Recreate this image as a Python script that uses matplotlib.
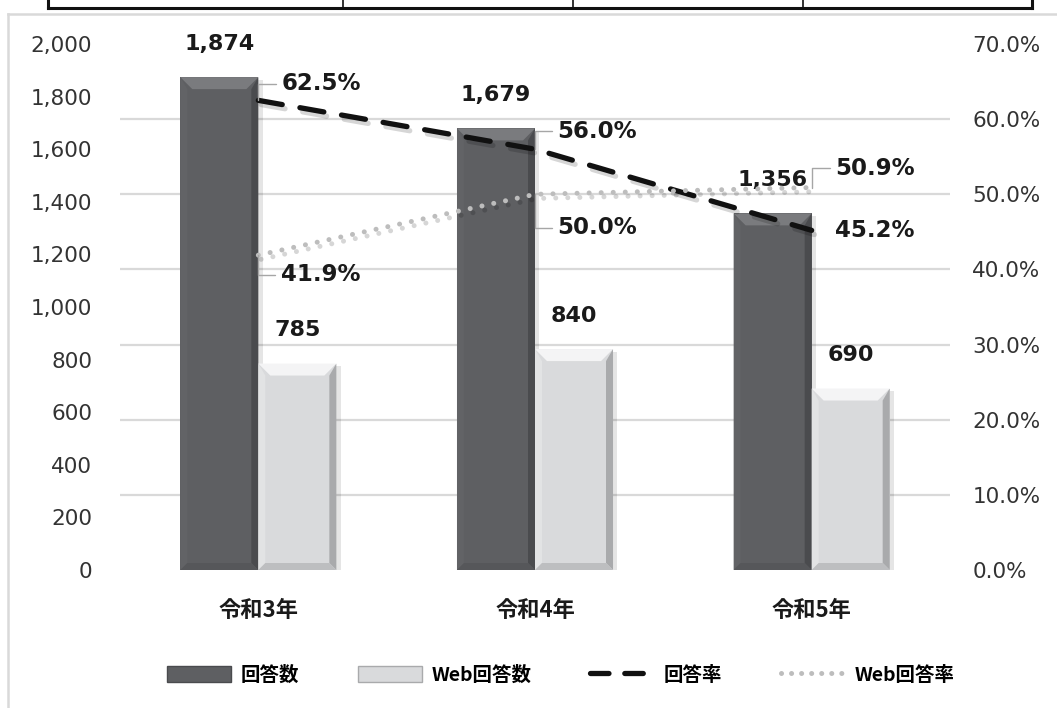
import numpy as np
import matplotlib
matplotlib.use("Agg")
import matplotlib.pyplot as plt
from matplotlib.patches import Polygon, Patch
from matplotlib.lines import Line2D
from matplotlib.ticker import FixedLocator
import matplotlib.patheffects as pe

# ---------------- data ----------------
categories = ["令和3年", "令和4年", "令和5年"]
responses = [1874, 1679, 1356]          # 回答数
web_responses = [785, 840, 690]         # Web回答数
response_rate = [0.625, 0.560, 0.452]   # 回答率
web_rate = [0.419, 0.500, 0.509]        # Web回答率
left_ticks = [0, 200, 400, 600, 800, 1000, 1200, 1400, 1600, 1800, 2000]
right_ticks = [0.0, 0.1, 0.2, 0.3, 0.4, 0.5, 0.6, 0.7]
legend_labels = ["回答数", "Web回答数", "回答率", "Web回答率"]

CJK = ["Noto Sans CJK JP", "DejaVu Sans"]
W, H = 1057, 708
fig = plt.figure(figsize=(W / 100, H / 100), dpi=100)
fig.patch.set_facecolor("white")

ax = fig.add_axes([120 / W, 1 - 570 / H, 830 / W, 526 / H])
ax2 = ax.twinx()

x = np.arange(len(categories))
bw = 0.282
ax.set_xlim(-0.5, len(categories) - 0.5)
ax.set_ylim(0, 2000)
ax2.set_ylim(0, 0.7)

for a in (ax, ax2):
    for s in a.spines.values():
        s.set_visible(False)
ax.patch.set_visible(False)

# gridlines aligned with the right axis ticks
ax.yaxis.set_minor_locator(FixedLocator([t / 0.7 * 2000 for t in right_ticks]))
ax.grid(which="minor", axis="y", color="#d9d9d9", lw=1.6)
ax.grid(which="major", visible=False)
ax.tick_params(axis="y", which="minor", length=0)
ax.set_axisbelow(True)

# left ticks
ax.set_yticks(left_ticks)
ax.set_yticklabels([f"{v:,}" for v in left_ticks])
ax.tick_params(axis="y", which="major", length=0, pad=20, labelsize=15.5, labelcolor="#333333")
# right ticks
ax2.set_yticks(right_ticks)
ax2.set_yticklabels([f"{v*100:.1f}%" for v in right_ticks])
ax2.tick_params(axis="y", length=0, pad=16, labelsize=15.5, labelcolor="#333333")
# category ticks
ax.set_xticks(x)
ax.set_xticklabels(categories, fontfamily=CJK, fontweight="bold", fontsize=16)
ax.tick_params(axis="x", length=0, pad=21, labelcolor="#1a1a1a")

shadow = [pe.SimplePatchShadow(offset=(3, -2), shadow_rgbFace="#000000", alpha=0.10), pe.Normal()]

dark = dict(face="#5e5f62", top="#7a7b7e", left="#626366", right="#4a4b4e", bottom="#56575a")
light = dict(face="#d9dadc", top="#f4f4f5", left="#e2e3e4", right="#a9aaac", bottom="#bdbec0")

bars1 = ax.bar(x - bw / 2, responses, bw, color=dark["face"], zorder=2, path_effects=shadow)
bars2 = ax.bar(x + bw / 2, web_responses, bw, color=light["face"], zorder=2, path_effects=shadow)

# bevel effect
fig.canvas.draw()
p0 = ax.transData.transform((0, 0))
p1 = ax.transData.transform((1, 1000))
px_x = p1[0] - p0[0]
px_y = (p1[1] - p0[1]) / 1000.0
d = 12
dx, dy = d / px_x, d / px_y
ds = 7
dxs, dys = ds / px_x, ds / px_y


def bevel(bars, cols):
    for b in bars:
        x0, y0 = b.get_x(), b.get_y()
        x1, y1 = x0 + b.get_width(), y0 + b.get_height()
        polys = [
            ([(x0, y0), (x0, y1), (x0 + dxs, y1 - dy), (x0 + dxs, y0 + dys)], cols["left"]),
            ([(x1, y0), (x1, y1), (x1 - dxs, y1 - dy), (x1 - dxs, y0 + dys)], cols["right"]),
            ([(x0, y0), (x1, y0), (x1 - dxs, y0 + dys), (x0 + dxs, y0 + dys)], cols["bottom"]),
            ([(x0, y1), (x1, y1), (x1 - dx, y1 - dy), (x0 + dx, y1 - dy)], cols["top"]),
        ]
        for pts, c in polys:
            ax.add_patch(Polygon(pts, closed=True, facecolor=c, edgecolor="none", zorder=2.5))


bevel(bars1, dark)
bevel(bars2, light)

# value labels on bars
for xi, v in zip(x - bw / 2, responses):
    ax.annotate(f"{v:,}", (xi, v), xytext=(0, 24), textcoords="offset points",
                ha="center", va="center", fontsize=16, fontweight="bold", color="#1a1a1a", zorder=5)
for xi, v in zip(x + bw / 2, web_responses):
    ax.annotate(f"{v:,}", (xi, v), xytext=(0, 24), textcoords="offset points",
                ha="center", va="center", fontsize=16, fontweight="bold", color="#1a1a1a", zorder=5)

# lines
line_shadow = [pe.SimpleLineShadow(offset=(2, -3), shadow_color="#000000", alpha=0.16), pe.Normal()]
ax2.plot(x, response_rate, color="#111111", lw=3.8, dashes=(4.6, 3.4),
         dash_capstyle="round", solid_capstyle="round", zorder=4, path_effects=line_shadow)
ax2.plot(x, web_rate, color="#bdbdbd", lw=3.6, dashes=(0.01, 2.4),
         dash_capstyle="round", zorder=4, path_effects=line_shadow)

# rate labels (offsets in points, +y is up)
rate_offsets = [(17, 12), (16, 13), (17, 0)]
web_offsets = [(16, -14), (16, -24), (17, 14)]
leader = dict(arrowstyle="-", color="#a6a6a6", lw=1.0, shrinkA=2, shrinkB=0,
              connectionstyle="angle,angleA=0,angleB=90,rad=0")
for xi, v, off in zip(x, response_rate, rate_offsets):
    ax2.annotate(f"{v*100:.1f}%", (xi, v), xytext=off, textcoords="offset points",
                 ha="left", va="center", fontsize=16.5, fontweight="bold", color="#1a1a1a",
                 arrowprops=leader if off[1] != 0 else None, zorder=6)
for xi, v, off in zip(x, web_rate, web_offsets):
    ax2.annotate(f"{v*100:.1f}%", (xi, v), xytext=off, textcoords="offset points",
                 ha="left", va="center", fontsize=16.5, fontweight="bold", color="#1a1a1a",
                 arrowprops=leader, zorder=6)

# legend
handles = [
    Patch(facecolor=dark["face"], edgecolor=dark["right"], lw=1),
    Patch(facecolor=light["face"], edgecolor=light["right"], lw=1),
    Line2D([], [], color="#111111", lw=3.8, dashes=(3.5, 3.0), dash_capstyle="round"),
    Line2D([], [], color="#bdbdbd", lw=3.6, dashes=(0.01, 2.0), dash_capstyle="round"),
]
fig.legend(handles, legend_labels, loc="center", bbox_to_anchor=(561 / W, 1 - 675 / H),
           ncol=4, frameon=False, handlelength=3.3, handleheight=0.9, handletextpad=0.5,
           columnspacing=3.0, prop=dict(family=CJK, weight="bold", size=14))

# frame and top table borders
fig.add_artist(Line2D([8 / W, 1], [1 - 14 / H, 1 - 14 / H], color="#d9d9d9", lw=1.8))
fig.add_artist(Line2D([8 / W, 8 / W], [0, 1 - 14 / H], color="#d9d9d9", lw=1.8))
fig.add_artist(Line2D([48 / W, 1032 / W], [1 - 8 / H, 1 - 8 / H], color="#111111", lw=2.2))
for xv in (48, 343, 573, 803, 1032):
    lw = 2.2 if xv in (48, 1032) else 1.2
    fig.add_artist(Line2D([xv / W, xv / W], [1 - 8 / H, 1.01], color="#111111", lw=lw))

fig.savefig("out.png", dpi=100)
